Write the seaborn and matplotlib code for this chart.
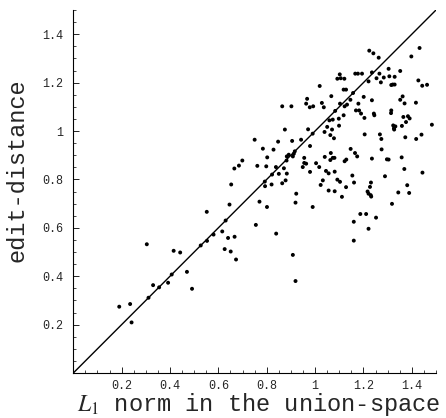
import numpy as np
import matplotlib
matplotlib.use("Agg")
import matplotlib.pyplot as plt
from matplotlib.ticker import MultipleLocator, FixedLocator
import seaborn as sns
import pandas as pd

# L1 norm in the union-space (x) vs edit-distance (y)
l1_norm = [
    0.190, 0.235, 0.241, 0.304, 0.311, 0.330, 0.355, 0.392, 0.407, 0.415,
    0.442, 0.470, 0.491, 0.527, 0.552, 0.553, 0.580, 0.616, 0.626, 0.630,
    0.640, 0.646, 0.651, 0.653, 0.666, 0.685, 0.699, 0.750, 0.761, 0.784,
    0.792, 0.793, 0.802, 0.798, 0.770, 0.755, 0.667, 0.673, 0.801, 0.820,
    0.822, 0.828, 0.838, 0.847, 0.839, 0.850, 0.864, 0.864, 0.871, 0.875,
    0.878, 0.882, 0.883, 0.883, 0.891, 0.902, 0.905, 0.908, 0.916, 0.908,
    0.912, 0.922, 0.919, 0.919, 0.942, 0.949, 0.955, 0.955, 0.963, 0.967,
    0.963, 0.971, 0.978, 0.979, 0.979, 0.990, 0.992, 0.990, 1.004, 1.017,
    1.019, 1.023, 1.028, 1.032, 1.036, 1.039, 1.040, 1.045, 1.050, 1.056,
    1.056, 1.059, 1.063, 1.065, 1.063, 1.067, 1.070, 1.073, 1.073, 1.078,
    1.080, 1.081, 1.081, 1.083, 1.092, 1.092, 1.098, 1.099, 1.102, 1.103,
    1.106, 1.103, 1.111, 1.118, 1.118, 1.121, 1.122, 1.122, 1.128, 1.129,
    1.132, 1.128, 1.146, 1.147, 1.154, 1.157, 1.160, 1.160, 1.161, 1.165,
    1.166, 1.169, 1.174, 1.177, 1.179, 1.182, 1.187, 1.190, 1.194, 1.201,
    1.204, 1.205, 1.211, 1.217, 1.221, 1.221, 1.221, 1.224, 1.227, 1.230,
    1.231, 1.232, 1.235, 1.235, 1.235, 1.241, 1.243, 1.245, 1.252, 1.254,
    1.263, 1.266, 1.268, 1.272, 1.274, 1.275, 1.284, 1.289, 1.297, 1.304,
    1.304, 1.307, 1.314, 1.315, 1.315, 1.318, 1.321, 1.323, 1.326, 1.329,
    1.327, 1.329, 1.332, 1.344, 1.352, 1.352, 1.358, 1.359, 1.362, 1.365,
    1.369, 1.370, 1.373, 1.376, 1.381, 1.384, 1.389, 1.391, 1.398, 1.417,
    1.418, 1.427, 1.432, 1.440, 1.443, 1.444, 1.463, 1.483,
]
edit_distance = [
    0.274, 0.285, 0.209, 0.532, 0.311, 0.363, 0.354, 0.373, 0.407, 0.505,
    0.498, 0.418, 0.348, 0.527, 0.666, 0.546, 0.572, 0.585, 0.512, 0.630,
    0.558, 0.696, 0.502, 0.779, 0.845, 0.857, 0.878, 0.964, 0.856, 0.927,
    0.791, 0.772, 0.891, 0.854, 0.708, 0.612, 0.563, 0.469, 0.686, 0.779,
    0.820, 0.923, 0.851, 0.956, 0.576, 0.823, 1.102, 0.784, 0.846, 1.006,
    0.796, 0.878, 0.895, 0.824, 0.902, 1.102, 0.959, 0.488, 0.916, 0.895,
    0.906, 0.741, 0.704, 0.380, 0.964, 0.851, 0.889, 0.868, 0.865, 1.133,
    1.113, 1.007, 1.098, 0.938, 0.831, 0.989, 1.102, 0.686, 0.867, 0.851,
    1.186, 0.777, 1.116, 0.796, 1.098, 0.996, 0.893, 0.835, 1.017, 0.825,
    0.754, 1.044, 0.983, 0.909, 0.880, 1.144, 1.006, 0.889, 1.047, 0.970,
    0.889, 0.751, 0.832, 1.083, 1.216, 0.799, 1.051, 1.022, 1.234, 0.790,
    1.218, 1.113, 0.728, 1.171, 1.065, 1.216, 1.102, 0.875, 1.171, 0.882,
    1.109, 0.768, 1.129, 0.926, 0.816, 1.157, 0.625, 0.547, 0.787, 0.909,
    1.237, 1.085, 0.895, 1.237, 1.113, 1.085, 0.657, 1.072, 1.237, 1.141,
    1.054, 0.986, 0.657, 0.750, 0.741, 1.205, 0.596, 1.332, 0.769, 0.735,
    0.787, 0.729, 0.886, 1.127, 1.242, 1.321, 1.072, 1.065, 0.642, 1.218,
    1.303, 1.237, 0.986, 1.201, 0.967, 0.924, 1.221, 0.813, 0.883, 0.882,
    1.257, 1.226, 1.074, 1.190, 1.085, 0.699, 1.192, 1.023, 1.011, 1.224,
    1.006, 1.192, 1.019, 0.746, 1.248, 1.129, 0.891, 1.021, 1.143, 1.058,
    0.843, 1.114, 0.974, 1.037, 0.776, 1.061, 0.744, 1.052, 1.308, 1.117,
    0.967, 1.209, 1.343, 0.985, 1.187, 0.828, 1.191, 1.026,
]
major_ticks = [0.2, 0.4, 0.6, 0.8, 1.0, 1.2, 1.4]
tick_labels = ["0.2", "0.4", "0.6", "0.8", "1", "1.2", "1.4"]
diag = [0.0, 1.5]

df = pd.DataFrame({"l1": l1_norm, "edit": edit_distance})

sns.set_style("white")
plt.rcParams["font.family"] = ["Liberation Mono", "DejaVu Sans"]
plt.rcParams["mathtext.fontset"] = "stix"

fig = plt.figure(figsize=(4.46, 4.18), dpi=100)
ax = fig.add_axes([73.3 / 446, 1 - 373 / 418, 362.7 / 446, 363 / 418])

sns.lineplot(x=diag, y=diag, ax=ax, color="black", linewidth=1.0)
sns.scatterplot(data=df, x="l1", y="edit", ax=ax, color="black", s=8,
                edgecolor="none", legend=False)

ax.set_xlim(0, 1.5)
ax.set_ylim(0, 1.5)
sns.despine(ax=ax)
for side in ["left", "bottom"]:
    ax.spines[side].set_linewidth(0.8)
    ax.spines[side].set_color("black")

ax.xaxis.set_major_locator(FixedLocator(major_ticks))
ax.yaxis.set_major_locator(FixedLocator(major_ticks))
ax.xaxis.set_minor_locator(MultipleLocator(0.05))
ax.yaxis.set_minor_locator(MultipleLocator(0.05))
ax.set_xticklabels(tick_labels)
ax.set_yticklabels(tick_labels)
ax.tick_params(which="both", bottom=True, left=True, direction="in", color="black")
ax.tick_params(which="major", length=4, width=0.6, labelsize=8.5, pad=5)
ax.tick_params(which="minor", length=2, width=0.5)
ax.tick_params(axis="y", which="major", pad=7)
ax.set_xlabel("")
ax.set_ylabel("")

fig.text(259 / 446, 1 - 404 / 418, r"$L_1$ norm in the union-space",
         ha="center", va="center", fontsize=17)
fig.text(17 / 446, 1 - 170 / 418, "edit-distance", rotation=90,
         ha="center", va="center", fontsize=17)

fig.savefig("out.png", dpi=100)
